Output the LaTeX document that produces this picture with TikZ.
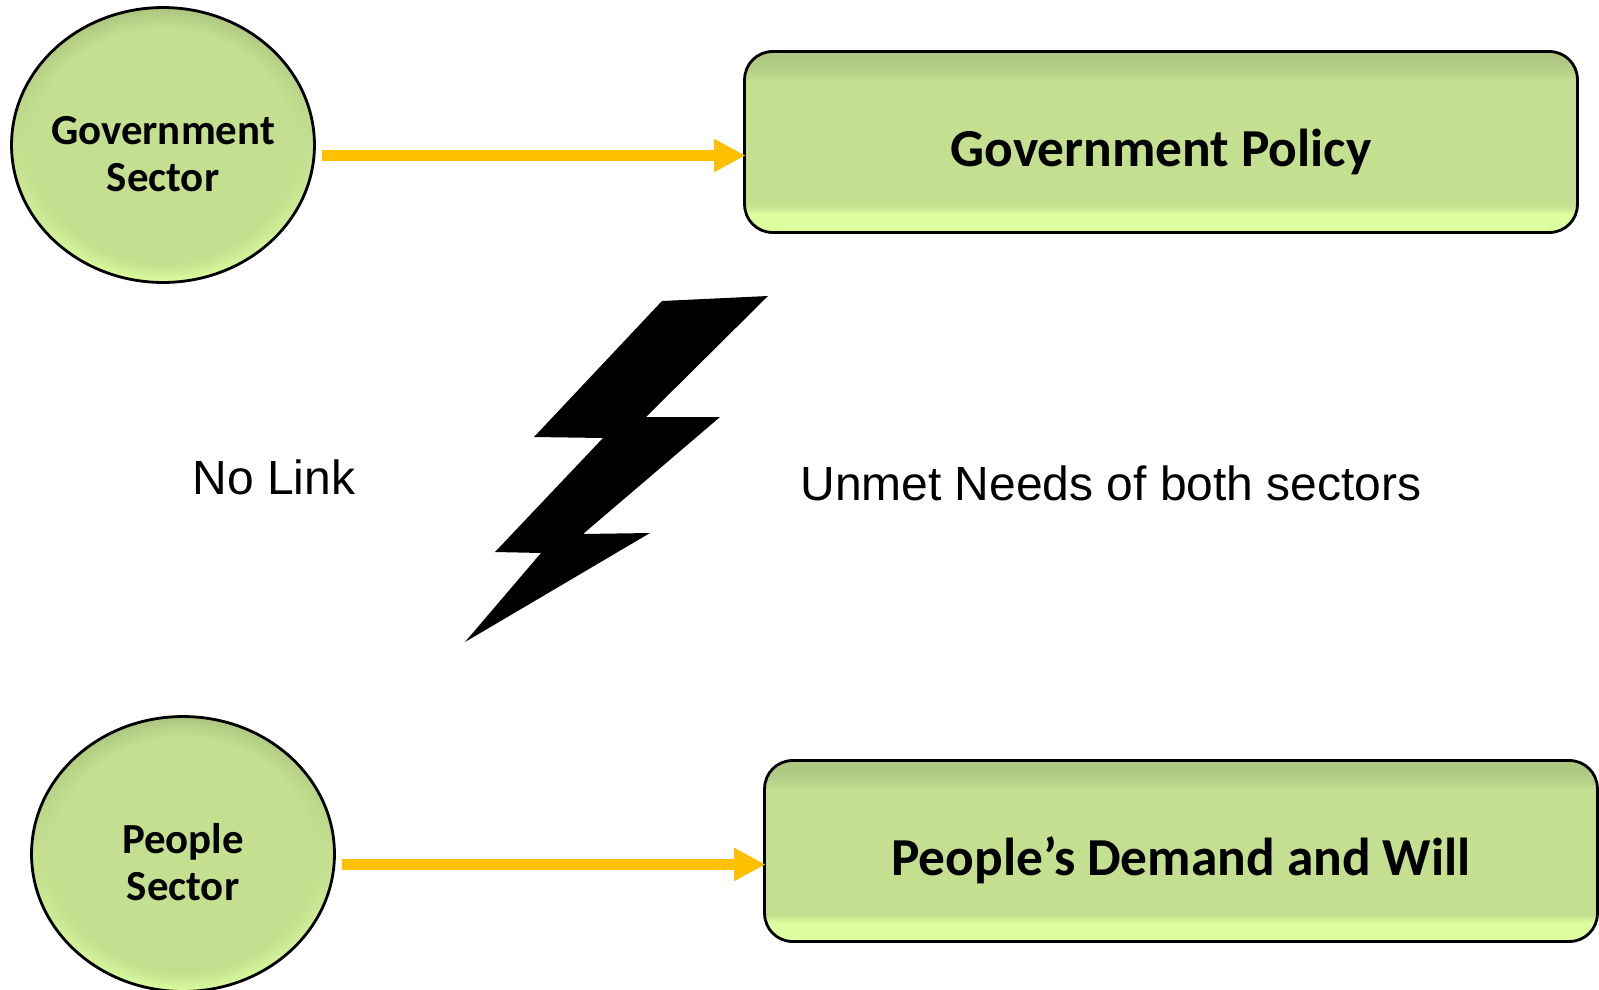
\documentclass[tikz,border=0pt]{standalone}
\usepackage{fontspec}
\setmainfont{Carlito}
\newfontfamily\arialfont{Liberation Sans}
\usetikzlibrary{shapes.geometric,arrows.meta,fadings}
\definecolor{bevel_mid}{HTML}{C3DF8F}
\definecolor{bevel_low}{HTML}{DDFF9F}
\definecolor{bevel_top}{HTML}{ABC47F}
\definecolor{arrow_gold}{HTML}{FFC000}
\pgfdeclareverticalshading{bevel_box}{100bp}{color(0bp)=(bevel_low); color(30bp)=(bevel_low); color(32.5bp)=(bevel_mid); color(67bp)=(bevel_mid); color(70bp)=(bevel_top!60!bevel_mid); color(75bp)=(bevel_top); color(100bp)=(bevel_top)}
\pgfdeclareverticalshading{bevel_round}{100bp}{color(0bp)=(bevel_low); color(25bp)=(bevel_low); color(50bp)=(bevel_mid); color(75bp)=(bevel_top); color(100bp)=(bevel_top)}
\begin{document}
\begin{tikzpicture}
  [x=0.02cm,y=-0.02cm]
      \tikzstyle{sector_style} = [ellipse, draw=black, line width=1.6pt, shade, shading=bevel_round, minimum width=6.06cm, minimum height=5.5cm, inner sep=-3pt, align=center, font=\fontsize{24.4}{27}\selectfont\bfseries, text height=53pt, text depth=0pt, path picture={\fill[bevel_mid, path fading=circle with fuzzy edge 15 percent] (path picture bounding box.center) ellipse (3.03cm and 2.75cm);}]
      \tikzstyle{box_style} = [draw=black, line width=1.6pt, rounded corners=0.56cm, shade, shading=bevel_box, minimum width=16.66cm, minimum height=3.62cm, inner sep=0, font=\fontsize{30.4}{34}\selectfont\bfseries, text height=33.5pt, text depth=6pt]
      \tikzstyle{text_style} = [inner sep=0, font=\arialfont\fontsize{27.3}{32}\selectfont]
      \tikzstyle{arrow_style} = [draw=arrow_gold, line width=6pt, -{Triangle[length=18pt,width=17.6pt]}]
  \useasboundingbox (0,0) rectangle (1599,990);
  \node[sector_style] (n_gov) at (163,145) {Government\\Sector};
  \node[sector_style] (n_people) at (183,854) {People\\Sector};
  \node[box_style] (n_policy) at (1161,142) {Government Policy};
  \node[box_style] (n_demand) at (1181,851) {People’s Demand and Will};
  \node[text_style] (n_nolink) at (274,477) {No Link};
  \node[text_style] (n_unmet) at (1111,483) {Unmet Needs of both sectors};
  \draw[arrow_style] ([xshift=0.12cm,yshift=-0.21cm]n_gov.east) -- ([xshift=0.05cm,yshift=-0.27cm]n_policy.west);
  \draw[arrow_style] ([xshift=0.12cm,yshift=-0.21cm]n_people.east) -- ([xshift=0.05cm,yshift=-0.27cm]n_demand.west);
  \fill[black] (662,301) -- (768,296) -- (646,417) -- (720,417) -- (583,534) -- (650,533) -- (465,642) -- (541,553) -- (495,552) -- (603,438) -- (534,437) -- cycle;
\end{tikzpicture}
\end{document}
